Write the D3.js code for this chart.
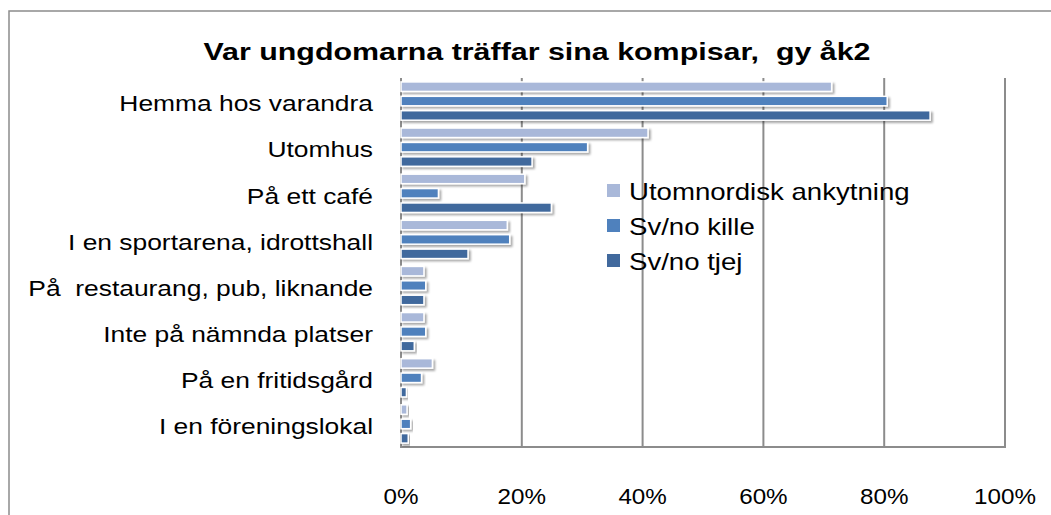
<!DOCTYPE html>
<html>
<head>
<meta charset="utf-8">
<script src="https://cdnjs.cloudflare.com/ajax/libs/d3/7.8.5/d3.min.js"></script>
<style>
  body { margin: 0; background: #fff; }
  svg text { font-family: "Liberation Sans", Arial, sans-serif; fill: #000; white-space: pre; }
</style>
</head>
<body>
<div id="chart"></div>
<script>
var categories = ["Hemma hos varandra", "Utomhus", "På ett café", "I en sportarena, idrottshall",
                  "På  restaurang, pub, liknande", "Inte på nämnda platser", "På en fritidsgård", "I en föreningslokal"];
var seriesNames = ["Utomnordisk ankytning", "Sv/no kille", "Sv/no tjej"];
var utomnordisk = [71.3, 40.9, 20.5, 17.6, 3.8, 3.8, 5.2, 1.0];
var killeValues = [80.5, 30.9, 6.2, 18.0, 4.1, 4.1, 3.4, 1.6];
var tjejValues  = [87.6, 21.7, 24.9, 11.1, 3.8, 2.2, 0.9, 1.2];
var tickValues = [0, 20, 40, 60, 80, 100];
var colors = ["#a9b8d9", "#4f81bd", "#41699d"];

function init() {
    var w = 1051;
    var h = 515;
    var allSeries = [utomnordisk, killeValues, tjejValues];

    var svg = d3.select("#chart")
                .append("svg")
                .attr("width", w)
                .attr("height", h);

    // drop shadow for bars
    var defs = svg.append("defs");
    var f = defs.append("filter").attr("id", "shadow")
        .attr("x", "-10%").attr("y", "-50%").attr("width", "130%").attr("height", "250%");
    f.append("feDropShadow").attr("dx", 2).attr("dy", 2).attr("stdDeviation", 1.2)
        .attr("flood-color", "#000").attr("flood-opacity", 0.35);

    // outer frame
    svg.append("rect")
       .attr("x", 9).attr("y", 11)
       .attr("width", w + 20).attr("height", h + 20)
       .attr("fill", "none").attr("stroke", "#8c8c8c").attr("stroke-width", 1.5);

    var xScale = d3.scaleLinear().domain([0, 100]).range([401, 1005]);
    var yScale = d3.scaleBand().domain(categories).range([78, 447])
                   .paddingInner(0.17).paddingOuter(0.085);
    var ySub = d3.scaleBand().domain(d3.range(3)).range([0, yScale.bandwidth()]).paddingInner(0.34);

    // title (source font is wider than what we have, so stretch it)
    svg.append("text")
       .attr("x", 537).attr("y", 60)
       .attr("text-anchor", "middle")
       .attr("font-weight", "bold")
       .attr("font-size", 23)
       .attr("textLength", 667)
       .attr("lengthAdjust", "spacingAndGlyphs")
       .text("Var ungdomarna träffar sina kompisar,  gy åk2");

    // gridlines
    svg.selectAll("line.grid")
       .data(tickValues.slice(1))
       .enter().append("line")
       .attr("class", "grid")
       .attr("x1", function(d) { return xScale(d); })
       .attr("x2", function(d) { return xScale(d); })
       .attr("y1", 78).attr("y2", 447)
       .attr("stroke", "#8c8c8c").attr("stroke-width", 2);

    // axis lines
    svg.append("line").attr("x1", 401).attr("x2", 401).attr("y1", 78).attr("y2", 448)
       .attr("stroke", "#8c8c8c").attr("stroke-width", 2);
    svg.append("line").attr("x1", 400).attr("x2", 1006).attr("y1", 447).attr("y2", 447)
       .attr("stroke", "#8c8c8c").attr("stroke-width", 2);

    // x tick labels
    svg.selectAll("text.tick")
       .data(tickValues)
       .enter().append("text")
       .attr("class", "tick")
       .attr("text-anchor", "middle")
       .attr("font-size", 22)
       .attr("transform", function(d) { return "translate(" + xScale(d) + ",504) scale(1.1,1)"; })
       .text(function(d) { return d + "%"; });

    // category labels
    svg.selectAll("text.cat")
       .data(categories)
       .enter().append("text")
       .attr("class", "cat")
       .attr("transform", function(d) {
           return "translate(373," + (yScale(d) + yScale.bandwidth() / 2 + 2.5) + ") scale(1.2,1)";
       })
       .attr("dy", "0.35em")
       .attr("text-anchor", "end")
       .attr("font-size", 22)
       .text(function(d) { return d; });

    // bars
    allSeries.forEach(function(vals, s) {
        svg.append("g").selectAll("rect")
           .data(vals)
           .enter().append("rect")
           .attr("x", xScale(0))
           .attr("y", function(d, i) { return yScale(categories[i]) + ySub(s); })
           .attr("width", function(d) { return xScale(d) - xScale(0); })
           .attr("height", ySub.bandwidth())
           .attr("fill", colors[s])
           .attr("stroke", "#fff")
           .attr("stroke-width", 1.5)
           .attr("filter", "url(#shadow)");
    });

    // legend
    var legend = svg.selectAll("g.legend")
       .data(seriesNames)
       .enter().append("g")
       .attr("class", "legend")
       .attr("transform", function(d, i) { return "translate(607," + (191 + i * 35) + ")"; });
    legend.append("rect")
       .attr("x", 0).attr("y", -7).attr("width", 13).attr("height", 13)
       .attr("fill", function(d, i) { return colors[i]; });
    legend.append("text")
       .attr("transform", "translate(22,1) scale(1.2,1)")
       .attr("dy", "0.35em")
       .attr("font-size", 23)
       .text(function(d) { return d; });
}

window.onload = init;
</script>
</body>
</html>
